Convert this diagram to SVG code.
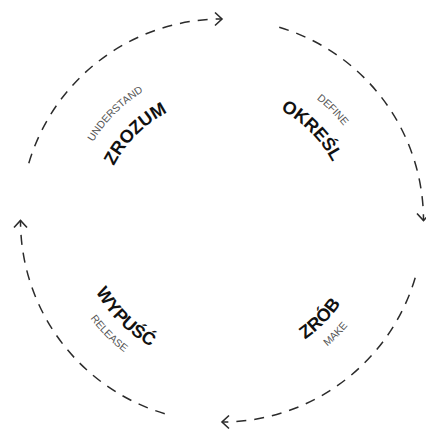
<svg xmlns="http://www.w3.org/2000/svg" width="426" height="432" viewBox="0 0 426 432">
<style>
.conn{fill:none;stroke:#2b2b2b;stroke-width:1.5;stroke-dasharray:10 8;marker-end:url(#chev)}
.pl{font-family:"Liberation Sans",Arial,sans-serif;font-weight:bold;font-size:18px;fill:#111}
.en{font-family:"Liberation Sans",Arial,sans-serif;font-size:10.5px;fill:#555}
</style>
<defs>
<marker id="chev" markerUnits="userSpaceOnUse" markerWidth="20" markerHeight="20" refX="0" refY="0" orient="auto" overflow="visible">
<path d="M -7 -6.5 L 0 0 L -7 6.5" fill="none" stroke="#2b2b2b" stroke-width="1.6"/>
</marker>
<path id="pTLin" d="M 122.88 289.90 A 121 121 0 0 1 291.40 121.38"/>
<path id="pTLout" d="M 98.31 307.11 A 151 151 0 0 1 308.61 96.81"/>
<path id="pTRin" d="M 150.30 118.11 A 125 125 0 0 1 324.39 292.20"/>
<path id="pTRout" d="M 133.67 94.35 A 154 154 0 0 1 348.15 308.83"/>
<path id="pBRin" d="M 138.83 339.28 A 145 145 0 0 0 340.78 137.33"/>
<path id="pBRout" d="M 127.93 354.84 A 164 164 0 0 0 356.34 126.43"/>
<path id="pBLin" d="M 103.22 137.33 A 145 145 0 0 0 305.17 339.28"/>
<path id="pBLout" d="M 87.66 126.43 A 164 164 0 0 0 316.07 354.84"/>
</defs>
<rect width="426" height="432" fill="#fff"/>
<g id="connectors">
<path class="conn" d="M 28.80 163.27 A 201.5 201.5 0 0 1 222 19"/>
<path class="conn" d="M 279.23 27.30 A 201.5 201.5 0 0 1 423.5 220.5"/>
<path class="conn" d="M 415.20 277.73 A 201.5 201.5 0 0 1 222 422"/>
<path class="conn" d="M 164.77 413.70 A 201.5 201.5 0 0 1 20.5 220.5"/>
</g>
<g id="zrozum">
<text class="en" text-anchor="middle"><textPath href="#pTLout" startOffset="50%">UNDERSTAND</textPath></text>
<text class="pl" text-anchor="middle"><textPath href="#pTLin" startOffset="50%">ZROZUM</textPath></text>
</g>
<g id="okresl">
<text class="en" text-anchor="middle"><textPath href="#pTRout" startOffset="50%">DEFINE</textPath></text>
<text class="pl" text-anchor="middle"><textPath href="#pTRin" startOffset="50%">OKREŚL</textPath></text>
</g>
<g id="zrob">
<text class="pl" text-anchor="middle"><textPath href="#pBRin" startOffset="50%">ZRÓB</textPath></text>
<text class="en" text-anchor="middle"><textPath href="#pBRout" startOffset="50%">MAKE</textPath></text>
</g>
<g id="wypusc">
<text class="pl" text-anchor="middle"><textPath href="#pBLin" startOffset="50%">WYPUŚĆ</textPath></text>
<text class="en" text-anchor="middle"><textPath href="#pBLout" startOffset="50%">RELEASE</textPath></text>
</g>
</svg>
